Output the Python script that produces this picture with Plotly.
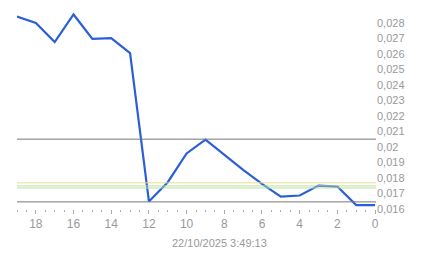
import plotly.graph_objects as go

x_vals = [19, 18, 17, 16, 15, 14, 13, 12, 11, 10, 9, 8, 7, 6, 5, 4, 3, 2, 1, 0]
y_vals = [0.02842, 0.02800, 0.02677, 0.02855, 0.02697, 0.02703, 0.02606, 0.01648,
          0.01772, 0.01958, 0.02047, 0.01948, 0.01852, 0.01761, 0.01679, 0.01686,
          0.01750, 0.01744, 0.01624, 0.01624]

ref_dark = [0.0205, 0.01645]
ref_yellow = [0.01768]
ref_green = [0.01748, 0.01735]

y_ticks = [0.016, 0.017, 0.018, 0.019, 0.020, 0.021, 0.022, 0.023, 0.024,
           0.025, 0.026, 0.027, 0.028]
y_ticktext = [f"{round(v, 3):g}".replace(".", ",") for v in y_ticks]
x_ticks = [18, 16, 14, 12, 10, 8, 6, 4, 2, 0]
timestamp = "22/10/2025 3:49:13"

fig = go.Figure()

for v in ref_dark:
    fig.add_hline(y=v, line=dict(color="#777777", width=1))
for v in ref_yellow:
    fig.add_hline(y=v, line=dict(color="#f0d890", width=1))
for v in ref_green:
    fig.add_hline(y=v, line=dict(color="#b8e0a0", width=1))

fig.add_trace(go.Scatter(x=x_vals, y=y_vals, mode="lines",
                         line=dict(color="#2a5fd8", width=2.2), hoverinfo="skip"))

fig.update_layout(
    width=443, height=258,
    margin=dict(l=17, r=67, t=10, b=49),
    paper_bgcolor="white", plot_bgcolor="white",
    showlegend=False,
    font=dict(family="Liberation Sans, Arial, sans-serif", size=11, color="#999999"),
    xaxis=dict(range=[19, -0.05], tickvals=x_ticks, showgrid=False, zeroline=False,
               showline=False, ticks="outside", ticklen=4, tickcolor="#aaaaaa",
               tickfont=dict(size=12, color="#999999"),
               minor=dict(dtick=0.5, tick0=0, ticks="outside", ticklen=2,
                          tickcolor="#aaaaaa", showgrid=False)),
    yaxis=dict(range=[0.01599, 0.02884], side="right", tickvals=y_ticks,
               ticktext=y_ticktext, showgrid=False, zeroline=False, showline=False,
               ticks="", tickfont=dict(size=11, color="#999999")),
    annotations=[dict(text=timestamp, xref="paper", yref="paper", x=0.565, y=-0.171,
                      xanchor="center", yanchor="middle", showarrow=False,
                      font=dict(size=11, color="#999999"))],
)

fig.write_html("out.html")
